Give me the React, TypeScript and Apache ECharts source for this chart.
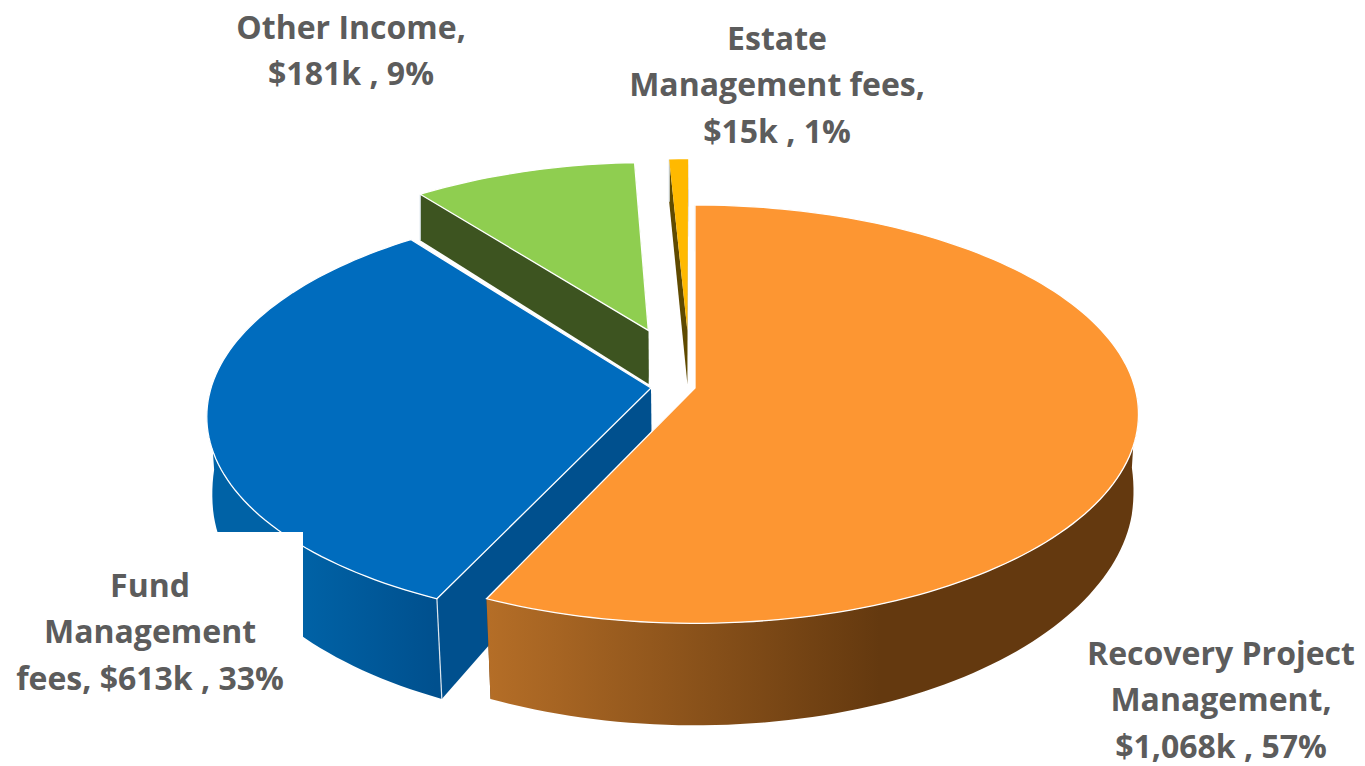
import React, { useEffect, useRef } from "react";
import * as echarts from "echarts";

// Data, clockwise from 12 o'clock
const categories = ["Recovery Project Management", "Fund Management fees", "Other Income", "Estate Management fees"];
const values = [1068, 613, 181, 15];
const labelLines = [
  ["Recovery Project", "Management,", "$1,068k , 57%"],
  ["Fund", "Management", "fees, $613k , 33%"],
  ["Other Income,", "$181k , 9%"],
  ["Estate", "Management fees,", "$15k , 1%"],
];

// Styles and layout
const topColors = ["#FD9632", "#006CBE", "#8FCE50", "#FFB900"];
const wallColors = ["#64390F", "#00508E", "#3D5420", "#5F4A00"];
const wallLight = ["#B56E27", "#0062A6", "#3D5420", "#5F4A00"];
const drawOrder = [3, 2, 1, 0];
const offsets = [[0, 0], [-0.1, 0], [-0.11, -0.29], [-0.018, -0.29]];
const radii = [1, 1, 0.98, 1];
const labelCenters = [[1221, 652], [150, 584], [351, 26], [777, 37]];
const LINE_H = 46.5;
const FONT = "'Open Sans', sans-serif";

const PX = 695, PY = 388, A = 440, B = 205.9, K = 0.125;
// Wall height of the disc as it comes nearer to the viewer: [depth, height]
const heightStops = [[-1.3, 42], [-1.06, 46], [-0.3, 53], [0, 72], [0.2, 84], [0.5, 90], [0.9, 100], [1.2, 106]];
const wallHeight = (v: number) => {
  for (let i = 1; i < heightStops.length; i++) {
    const [v0, h0] = heightStops[i - 1];
    const [v1, h1] = heightStops[i];
    if (v <= v1) return h0 + ((Math.max(v, v0) - v0) / (v1 - v0)) * (h1 - h0);
  }
  return heightStops[heightStops.length - 1][1];
};
const project = (u: number, v: number) => {
  const s = 1 / (1 - K * v);
  return [PX + A * u * s, PY + B * v * s];
};
const projectBottom = (u: number, v: number) => {
  const [x, y] = project(u, v);
  return [x + (PX - x) * 0.01 * Math.max(0, v + 1), y + wallHeight(v)];
};

const total = values.reduce((a, b) => a + b, 0);
const startAngles = values.map((_, i) => (values.slice(0, i).reduce((a, b) => a + b, 0) / total) * Math.PI * 2);

function renderSlice(params: any) {
  const i = drawOrder[params.dataIndex];
  const [ou, ov] = offsets[i];
  const a0 = startAngles[i];
  const a1 = a0 + (values[i] / total) * Math.PI * 2;
  const steps = Math.max(2, Math.round((a1 - a0) / 0.025));
  const rim: number[][] = [];
  for (let k = 0; k <= steps; k++) {
    const a = a0 + ((a1 - a0) * k) / steps;
    rim.push([ou + radii[i] * Math.sin(a), ov - radii[i] * Math.cos(a)]);
  }
  const children: any[] = [];
  const shape = (points: number[][]) => ({ points });
  const wall = (p: number[]) => [project(ou, ov), project(p[0], p[1]), projectBottom(p[0], p[1]), projectBottom(ou, ov)];
  children.push({ type: "polygon", shape: shape(wall(rim[rim.length - 1])), style: { fill: wallColors[i] } });
  const front = rim.filter((p) => p[1] - ov > 0.02);
  if (front.length > 1) {
    const tops = front.map((p) => project(p[0], p[1]));
    const bots = front.map((p) => projectBottom(p[0], p[1])).reverse();
    const fill = i === 0
      ? new echarts.graphic.LinearGradient(485, 0, 880, 0, [{ offset: 0, color: wallLight[0] }, { offset: 1, color: wallColors[0] }], true)
      : new echarts.graphic.LinearGradient(303, 0, 435, 0, [{ offset: 0, color: wallLight[i] }, { offset: 1, color: wallColors[i] }], true);
    children.push({ type: "polygon", shape: shape([...tops, ...bots]), style: { fill } });
  }
  children.push({ type: "polygon", shape: shape(wall(rim[0])), style: { fill: wallColors[i] } });
  const cornerTop = project(rim[0][0], rim[0][1]);
  const cornerBot = projectBottom(rim[0][0], rim[0][1]);
  children.push({
    type: "line",
    shape: { x1: cornerTop[0], y1: cornerTop[1], x2: cornerBot[0], y2: cornerBot[1] },
    style: { stroke: "#DDE6EE", lineWidth: 1.2 },
  });
  children.push({
    type: "polygon",
    shape: shape([project(ou, ov), ...rim.map((p) => project(p[0], p[1]))]),
    style: { fill: topColors[i], stroke: "#FFFFFF", lineWidth: i === 3 ? 0 : 1.3 },
  });
  return { type: "group", children };
}

function renderLabel(params: any) {
  const i = params.dataIndex;
  const [cx, cy] = labelCenters[i];
  const children: any[] = [];
  if (i === 1) {
    children.push({ type: "rect", shape: { x: 150, y: 532, width: 153, height: 170 }, style: { fill: "#FFFFFF" } });
  }
  labelLines[i].forEach((line, k) => {
    children.push({
      type: "text",
      x: cx,
      y: cy + k * LINE_H,
      style: { text: line, fill: "#5C5C5C", font: `bold 32px ${FONT}`, align: "center", verticalAlign: "middle" },
    });
  });
  return { type: "group", children };
}

export default function App() {
  const ref = useRef<HTMLDivElement>(null);
  useEffect(() => {
    const chart = echarts.init(ref.current!, undefined, { renderer: "svg" });
    chart.setOption({
      animation: false,
      backgroundColor: "#FFFFFF",
      series: [
        {
          type: "custom",
          coordinateSystem: "none",
          silent: true,
          z: 2,
          data: drawOrder.map((i) => ({ name: categories[i], value: values[i] })),
          renderItem: renderSlice,
        },
        {
          type: "custom",
          coordinateSystem: "none",
          silent: true,
          z: 3,
          data: categories.map((name, i) => ({ name, value: values[i] })),
          renderItem: renderLabel,
        },
      ],
    });
    return () => chart.dispose();
  }, []);
  return <div ref={ref} style={{ position: "absolute", left: 0, top: 0, width: 1365, height: 766 }} />;
}
